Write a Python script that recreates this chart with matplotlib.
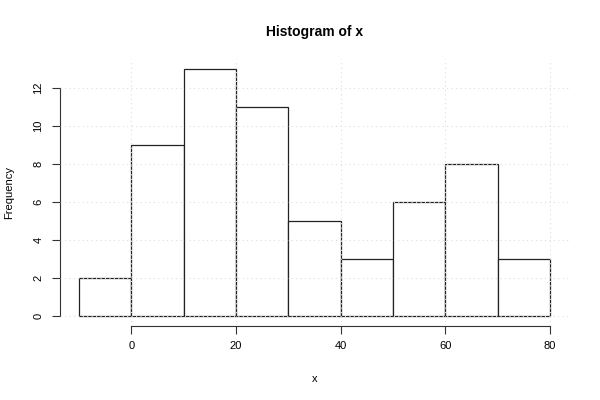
import numpy as np
import matplotlib
matplotlib.use("Agg")
import matplotlib.pyplot as plt

plt.rcParams['font.family'] = ['Liberation Sans', 'DejaVu Sans']

# histogram bins and counts
bin_edges = [-10, 0, 10, 20, 30, 40, 50, 60, 70, 80]
counts = [2, 9, 13, 11, 5, 3, 6, 8, 3]
x_ticks = [0, 20, 40, 60, 80]
y_ticks = [0, 2, 4, 6, 8, 10, 12]

fig = plt.figure(figsize=(6, 4), dpi=100)
ax = fig.add_axes([0.1, 0.185, 0.848, 0.667])

lefts = bin_edges[:-1]
widths = np.diff(bin_edges)
ax.bar(lefts, counts, width=widths, align='edge', facecolor='white',
       edgecolor='#222222', linewidth=0.9, zorder=2)

# R-style 4% axis extension
xr = bin_edges[-1] - bin_edges[0]
ax.set_xlim(bin_edges[0] - 0.04 * xr, bin_edges[-1] + 0.04 * xr)
ax.set_ylim(-0.04 * max(counts), max(counts) * 1.04)

ax.set_xticks(x_ticks)
ax.set_yticks(y_ticks)
ax.set_yticklabels([str(v) for v in y_ticks], rotation=90, va='center')
ax.tick_params(axis='both', direction='out', length=6, width=0.8,
               colors='#333333', labelcolor='black', labelsize=8)
ax.tick_params(axis='y', pad=6)
ax.tick_params(axis='x', pad=5)

for s in ['top', 'right']:
    ax.spines[s].set_visible(False)
ax.spines['left'].set_bounds(0, 12)
ax.spines['bottom'].set_bounds(0, 80)
for s in ['left', 'bottom']:
    ax.spines[s].set_color('#333333')
    ax.spines[s].set_linewidth(0.8)

ax.grid(True, color='#dddddd', linestyle=(0, (1, 3)), linewidth=0.8, zorder=3)
ax.set_axisbelow(False)

ax.set_title('Histogram of x', fontsize=10, fontweight='bold', pad=17)
ax.set_xlabel('x', fontsize=8, labelpad=16)
ax.set_ylabel('Frequency', fontsize=8, labelpad=14)

fig.savefig('out.png', dpi=100)
